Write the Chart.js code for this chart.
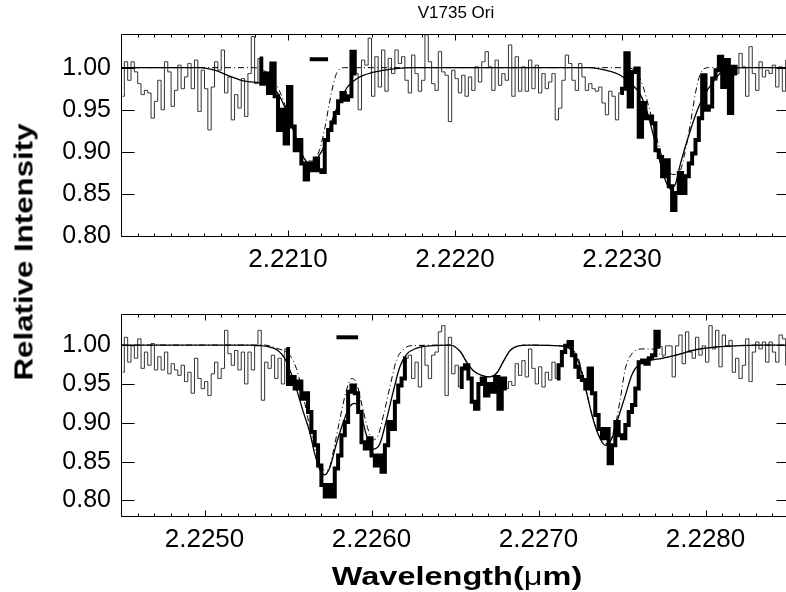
<!DOCTYPE html>
<html>
<head>
<meta charset="utf-8">
<title>V1735 Ori</title>
<script src="https://cdn.jsdelivr.net/npm/chart.js@4.4.1/dist/chart.umd.min.js"></script>
<style>
  html, body { margin: 0; padding: 0; background: #fff; overflow: hidden; }
  #figure { position: relative; width: 786px; height: 592px; overflow: hidden;
            font-family: "Liberation Sans", Arial, Helvetica, sans-serif; color: #000; }
  #topPanel { position: absolute; left: 0; top: 0; }
  #botPanel { position: absolute; left: 0; top: 280px; }
  .lbl { position: absolute; white-space: nowrap; line-height: 1; transform-origin: 50% 50%; }
  #title  { left: 456px; top: 12px; font-size: 17px; transform: translate(-50%, -50%); }
  #ytitle { left: 24px; top: 252px; font-size: 25px; font-weight: bold;
            transform: translate(-50%, -50%) rotate(-90deg) scaleX(1.25); }
  #xtitle { left: 457px; top: 576px; font-size: 25px; font-weight: bold;
            transform: translate(-50%, -50%) scaleX(1.3); }
  #xtitle span { font-weight: normal; }
</style>
</head>
<body>
<div id="figure">
  <canvas id="topPanel" width="800" height="280"></canvas>
  <canvas id="botPanel" width="800" height="312"></canvas>
  <div class="lbl" id="title">V1735 Ori</div>
  <div class="lbl" id="ytitle">Relative Intensity</div>
  <div class="lbl" id="xtitle">Wavelength(<span>μ</span>m)</div>
</div>
<script>
  // --- spectrum grid (microns) ---
  const WAVE_STEP = 0.00002;
  const TOP_WAVE_START = 2.22001;
  const BOT_WAVE_START = 2.22451;

  // observed relative flux, one value per pixel
  const TOP_FLUX = [
    0.966, 1.007, 0.985, 1.007, 0.995, 0.981, 0.968, 0.973, 0.970, 0.940,
    0.960, 0.985, 0.950, 1.007, 0.995, 0.954, 0.973, 1.003, 0.975, 0.989,
    1.005, 0.975, 1.009, 0.948, 0.997, 0.975, 0.926, 0.977, 1.007, 0.997,
    1.021, 0.970, 0.989, 0.938, 0.968, 0.952, 0.987, 0.942, 0.993, 1.037,
    0.981, 1.011, 0.981, 0.993, 0.970, 1.005, 0.966, 0.926, 0.950, 0.910,
    0.977, 0.930, 0.902, 0.914, 0.886, 0.867, 0.886, 0.878, 0.892, 0.878,
    0.876, 0.914, 0.926, 0.935, 0.946, 0.960,
    0.970, 0.962, 0.966, 1.019, 0.993, 0.950, 1.009, 1.003, 1.035, 0.966,
    1.013, 0.977, 1.021, 0.972, 1.011, 0.993, 1.021, 1.005, 1.013, 0.985,
    0.970, 1.015, 0.993, 0.972, 0.985, 1.039, 1.007, 0.981, 0.973, 1.019,
    0.995, 0.991, 0.936, 0.997, 0.987, 0.970, 0.991, 0.966, 0.989, 0.973,
    1.001, 0.983, 1.007, 1.019, 1.001, 0.973, 1.009, 0.979, 0.993, 0.985,
    1.027, 0.966, 1.013, 0.972, 1.001, 0.972, 1.009, 0.975, 1.003, 0.970,
    0.993, 0.975, 0.983, 0.993, 0.938, 0.952, 0.985, 1.015,
    1.005, 0.985, 0.973, 1.005, 0.989, 0.973, 0.981, 0.975, 0.972, 0.977,
    0.958, 0.944, 0.972, 0.966, 0.938, 0.970, 0.975, 1.017, 0.954, 0.995,
    0.999, 0.918, 0.958, 0.940, 0.942, 0.934, 0.902, 0.894, 0.871, 0.890,
    0.859, 0.831, 0.851, 0.875, 0.851, 0.871, 0.886, 0.898, 0.914, 0.940,
    0.991, 0.950, 0.954, 0.987, 0.997, 1.013, 0.977, 1.009, 0.946, 1.001,
    0.993, 1.017, 1.001, 0.966, 1.025, 0.993, 0.973, 1.007, 0.989, 0.997,
    0.993, 1.003, 0.977, 1.001, 0.972, 1.009, 0.973
  ];

  const BOT_FLUX = [
    0.965, 1.010, 0.978, 0.999, 0.983, 1.008, 0.970, 0.991, 0.974, 1.002,
    0.968, 0.985, 0.968, 0.991, 0.963, 0.976, 0.968, 0.961, 0.974, 0.953,
    0.965, 0.938, 0.983, 0.957, 0.944, 0.953, 0.935, 0.963, 0.978, 0.957,
    0.970, 1.019, 0.989, 0.974, 0.993, 0.968, 0.991, 0.950, 0.991, 0.968,
    0.999, 1.019, 0.929, 0.978, 0.970, 0.987, 0.957, 0.983, 0.950, 0.995,
    0.950, 0.959, 0.944, 0.953, 0.931, 0.938, 0.914, 0.888, 0.871, 0.845,
    0.820, 0.805, 0.820, 0.805, 0.841, 0.858, 0.884,
    0.901, 0.940, 0.948, 0.938, 0.914, 0.875, 0.867, 0.880, 0.858, 0.845,
    0.858, 0.837, 0.871, 0.901, 0.892, 0.927, 0.948, 0.957, 0.983, 0.987,
    0.957, 0.978, 0.946, 0.999, 0.974, 0.957, 0.987, 0.991, 1.017, 1.025,
    0.935, 1.010, 0.963, 0.974, 0.946, 0.970, 0.974, 0.957, 0.927, 0.918,
    0.950, 0.957, 0.935, 0.950, 0.940, 0.959, 0.918, 0.957, 0.944, 0.953,
    0.948, 0.976, 0.961, 0.980, 0.959, 0.995, 0.970, 0.950, 0.972, 0.946,
    0.965, 0.955, 0.978, 0.957, 0.974, 0.991, 0.999,
    1.004, 0.987, 0.972, 0.959, 0.955, 0.944, 0.970, 0.938, 0.910, 0.892,
    0.880, 0.892, 0.848, 0.871, 0.901, 0.884, 0.880, 0.897, 0.914, 0.923,
    0.944, 0.978, 0.980, 0.976, 0.983, 0.987, 1.017, 0.998, 0.987, 0.999,
    0.999, 0.959, 0.999, 1.013, 0.976, 1.017, 0.991, 0.983, 1.010, 0.987,
    0.999, 0.978, 1.025, 0.995, 1.019, 0.972, 1.013, 0.999, 1.006, 0.965,
    0.983, 0.957, 0.974, 1.008, 0.953, 0.991, 1.004, 0.995, 1.004, 0.978,
    1.004, 0.991, 0.978, 1.013, 1.008, 0.974, 0.999
  ];

  // wavelength ranges used in the fit (drawn heavy)
  const TOP_FIT_RANGES = [[2.22081, 2.22142], [2.22299, 2.22369]];
  const BOT_FIT_RANGES = [[2.22548, 2.22621], [2.22653, 2.22681], [2.22710, 2.22774]];

  // best-fit model (solid)
  const TOP_MODEL_WAVE = [
    2.22000, 2.22047, 2.22056, 2.22065, 2.22074, 2.22083, 2.22089, 2.22095, 2.22101, 2.22106,
    2.22110, 2.22114, 2.22117, 2.22122, 2.22126, 2.22131, 2.22136, 2.22142, 2.22150, 2.22161,
    2.22173, 2.22281, 2.22290, 2.22299, 2.22306, 2.22311, 2.22315, 2.22319, 2.22323, 2.22326,
    2.22329, 2.22332, 2.22335, 2.22341, 2.22346, 2.22350, 2.22355, 2.22359, 2.22365, 2.22374,
    2.22400
  ];
  const TOP_MODEL_FLUX = [
    1.000, 1.000, 0.997, 0.990, 0.984, 0.982, 0.979, 0.966, 0.938, 0.910,
    0.891, 0.886, 0.891, 0.908, 0.935, 0.960, 0.978, 0.988, 0.994, 0.998,
    1.000, 1.000, 0.997, 0.991, 0.980, 0.968, 0.948, 0.918, 0.886, 0.866,
    0.856, 0.862, 0.886, 0.926, 0.954, 0.970, 0.984, 0.994, 0.999, 1.000,
    1.000
  ];
  const BOT_MODEL_WAVE = [
    2.22450, 2.22527, 2.22538, 2.22544, 2.22548, 2.22552, 2.22555, 2.22559, 2.22563, 2.22566,
    2.22569, 2.22572, 2.22575, 2.22579, 2.22583, 2.22587, 2.22590, 2.22593, 2.22597, 2.22601,
    2.22605, 2.22609, 2.22613, 2.22617, 2.22621, 2.22627, 2.22635, 2.22647, 2.22653, 2.22657,
    2.22661, 2.22666, 2.22671, 2.22675, 2.22679, 2.22683, 2.22688, 2.22694, 2.22713, 2.22720,
    2.22724, 2.22728, 2.22732, 2.22736, 2.22740, 2.22744, 2.22748, 2.22752, 2.22756, 2.22760,
    2.22766, 2.22774, 2.22784, 2.22794, 2.22809, 2.22833, 2.22850
  ];
  const BOT_MODEL_FLUX = [
    1.000, 1.000, 0.998, 0.993, 0.983, 0.963, 0.944, 0.915, 0.888, 0.860,
    0.840, 0.833, 0.842, 0.873, 0.900, 0.921, 0.925, 0.916, 0.884, 0.866,
    0.873, 0.904, 0.940, 0.972, 0.988, 0.996, 0.999, 1.000, 0.992, 0.978,
    0.967, 0.961, 0.959, 0.964, 0.979, 0.993, 0.999, 1.000, 0.999, 0.993,
    0.978, 0.946, 0.910, 0.884, 0.871, 0.880, 0.908, 0.935, 0.962, 0.975,
    0.980, 0.983, 0.988, 0.994, 0.998, 1.000, 1.000
  ];

  // comparison model (dash-dot)
  const TOP_ALT_WAVE = [
    2.22000, 2.22080, 2.22085, 2.22091, 2.22095, 2.22099, 2.22103, 2.22107, 2.22111, 2.22115,
    2.22119, 2.22122, 2.22125, 2.22129, 2.22134, 2.22302, 2.22308, 2.22312, 2.22316, 2.22320,
    2.22324, 2.22328, 2.22332, 2.22335, 2.22338, 2.22341, 2.22344, 2.22347, 2.22352, 2.22400
  ];
  const TOP_ALT_FLUX = [
    1.000, 1.000, 0.997, 0.988, 0.972, 0.951, 0.927, 0.903, 0.890, 0.889,
    0.903, 0.928, 0.960, 0.993, 1.000, 1.000, 0.996, 0.981, 0.954, 0.922,
    0.894, 0.876, 0.873, 0.878, 0.902, 0.934, 0.970, 0.993, 1.000, 1.000
  ];
  const BOT_ALT_WAVE = [
    2.22450, 2.22536, 2.22543, 2.22551, 2.22555, 2.22559, 2.22563, 2.22567, 2.22571, 2.22574,
    2.22577, 2.22581, 2.22585, 2.22588, 2.22591, 2.22595, 2.22598, 2.22601, 2.22604, 2.22607,
    2.22611, 2.22615, 2.22619, 2.22623, 2.22647, 2.22653, 2.22657, 2.22661, 2.22666, 2.22671,
    2.22675, 2.22679, 2.22683, 2.22688, 2.22694, 2.22713, 2.22720, 2.22724, 2.22728, 2.22732,
    2.22736, 2.22739, 2.22742, 2.22746, 2.22749, 2.22752, 2.22756, 2.22762, 2.22768, 2.22772,
    2.22776, 2.22784, 2.22794, 2.22809, 2.22833, 2.22850
  ];
  const BOT_ALT_FLUX = [
    1.000, 1.000, 0.996, 0.987, 0.970, 0.936, 0.895, 0.861, 0.840, 0.839,
    0.862, 0.904, 0.942, 0.957, 0.951, 0.916, 0.891, 0.878, 0.884, 0.908,
    0.946, 0.981, 0.994, 0.999, 1.000, 0.992, 0.978, 0.967, 0.961, 0.959,
    0.964, 0.979, 0.993, 0.999, 1.000, 0.999, 0.995, 0.982, 0.948, 0.910,
    0.884, 0.873, 0.875, 0.897, 0.931, 0.970, 0.989, 0.995, 0.995, 0.989,
    0.984, 0.988, 0.994, 0.998, 1.000, 1.000
  ];

  // resolution bar
  const TOP_BAR_WAVE = [2.22113, 2.22124];
  const BOT_BAR_WAVE = [2.22579, 2.22592];
  const BAR_LEVEL = 1.010;

  // axes
  const TOP_X_RANGE = [2.2200, 2.2240];
  const BOT_X_RANGE = [2.2245, 2.2285];
  const TOP_Y_RANGE = [0.80, 1.04];
  const BOT_Y_RANGE = [0.78, 1.04];
  const TOP_X_TICKS = [2.2210, 2.2220, 2.2230];
  const BOT_X_TICKS = [2.2250, 2.2260, 2.2270, 2.2280];
  const Y_TICKS = [0.80, 0.85, 0.90, 0.95, 1.00];
  const X_MINOR_STEP = 0.0001;

  const FONT = '"Liberation Sans", Arial, Helvetica, sans-serif';

  function spectrum(start, flux) {
    return flux.map((f, i) => ({ x: start + i * WAVE_STEP, y: f }));
  }
  function heavy(points, ranges) {
    return points.map(p => ({
      x: p.x,
      y: ranges.some(([a, b]) => p.x >= a && p.x <= b) ? p.y : null
    }));
  }
  function curve(wave, flux) {
    return wave.map((w, i) => ({ x: w, y: flux[i] }));
  }

  // box with inward ticks on all four sides (IDL style)
  const framePlugin = {
    id: 'frame',
    afterDatasetsDraw(chart) {
      const { ctx, chartArea: a, scales: { x, y } } = chart;
      const L = Math.round(a.left) + 0.5, R = Math.round(a.right) + 0.5;
      const T = Math.round(a.top) + 0.5, B = Math.round(a.bottom) + 0.5;
      ctx.save();
      ctx.strokeStyle = '#000';
      ctx.lineWidth = 1;
      ctx.beginPath();
      ctx.rect(L, T, R - L, B - T);
      y.ticks.forEach(t => {
        const py = Math.round(y.getPixelForValue(t.value)) + 0.5;
        ctx.moveTo(L, py); ctx.lineTo(L + 13, py);
        ctx.moveTo(R, py); ctx.lineTo(R - 13, py);
      });
      const first = Math.ceil(x.min / X_MINOR_STEP - 1e-6);
      const last = Math.floor(x.max / X_MINOR_STEP + 1e-6);
      for (let k = first; k <= last; k++) {
        const px = Math.round(x.getPixelForValue(k * X_MINOR_STEP)) + 0.5;
        const len = k % 10 === 0 ? 6 : 3;
        ctx.moveTo(px, B); ctx.lineTo(px, B - len);
        ctx.moveTo(px, T); ctx.lineTo(px, T + len);
      }
      ctx.stroke();
      ctx.restore();
    }
  };

  function makePanel(canvas, p) {
    const obs = spectrum(p.start, p.flux);
    return new Chart(canvas, {
      type: 'line',
      data: {
        datasets: [
          { data: curve(p.bar, [BAR_LEVEL, BAR_LEVEL]), borderColor: '#000', borderWidth: 4, borderCapStyle: 'butt' },
          { data: curve(p.altWave, p.altFlux), borderColor: '#000', borderWidth: 1, borderDash: [6, 3, 1, 3], cubicInterpolationMode: 'monotone' },
          { data: curve(p.modelWave, p.modelFlux), borderColor: '#000', borderWidth: 1.3, cubicInterpolationMode: 'monotone' },
          { data: heavy(obs, p.ranges), borderColor: '#000', borderWidth: 4, stepped: 'middle' },
          { data: obs, borderColor: '#333', borderWidth: 1, stepped: 'middle' }
        ]
      },
      options: {
        responsive: false,
        animation: false,
        events: [],
        elements: { point: { radius: 0, hoverRadius: 0 }, line: { fill: false } },
        layout: { padding: { top: 34, right: 11, left: 0, bottom: 0 } },
        plugins: { legend: { display: false }, tooltip: { enabled: false }, title: { display: false } },
        scales: {
          x: {
            type: 'linear',
            min: p.xRange[0], max: p.xRange[1],
            afterBuildTicks: s => { s.ticks = p.xTicks.map(v => ({ value: v })); },
            afterFit: s => { s.height = p.xAxisHeight; },
            grid: { display: false, drawTicks: false },
            border: { display: false },
            ticks: {
              font: { family: FONT, size: 26 }, color: '#000', padding: 8,
              maxRotation: 0, autoSkip: false,
              callback: v => v.toFixed(4)
            }
          },
          y: {
            min: p.yRange[0], max: p.yRange[1],
            afterBuildTicks: s => { s.ticks = Y_TICKS.map(v => ({ value: v })); },
            afterFit: s => { s.width = 121; },
            grid: { display: false, drawTicks: false },
            border: { display: false },
            ticks: {
              font: { family: FONT, size: 25 }, color: '#000', padding: 10,
              callback: v => v.toFixed(2)
            }
          }
        }
      },
      plugins: [framePlugin]
    });
  }

  makePanel(document.getElementById('topPanel'), {
    start: TOP_WAVE_START, flux: TOP_FLUX, ranges: TOP_FIT_RANGES,
    modelWave: TOP_MODEL_WAVE, modelFlux: TOP_MODEL_FLUX,
    altWave: TOP_ALT_WAVE, altFlux: TOP_ALT_FLUX, bar: TOP_BAR_WAVE,
    xRange: TOP_X_RANGE, yRange: TOP_Y_RANGE, xTicks: TOP_X_TICKS, xAxisHeight: 44
  });
  makePanel(document.getElementById('botPanel'), {
    start: BOT_WAVE_START, flux: BOT_FLUX, ranges: BOT_FIT_RANGES,
    modelWave: BOT_MODEL_WAVE, modelFlux: BOT_MODEL_FLUX,
    altWave: BOT_ALT_WAVE, altFlux: BOT_ALT_FLUX, bar: BOT_BAR_WAVE,
    xRange: BOT_X_RANGE, yRange: BOT_Y_RANGE, xTicks: BOT_X_TICKS, xAxisHeight: 76
  });
</script>
</body>
</html>
